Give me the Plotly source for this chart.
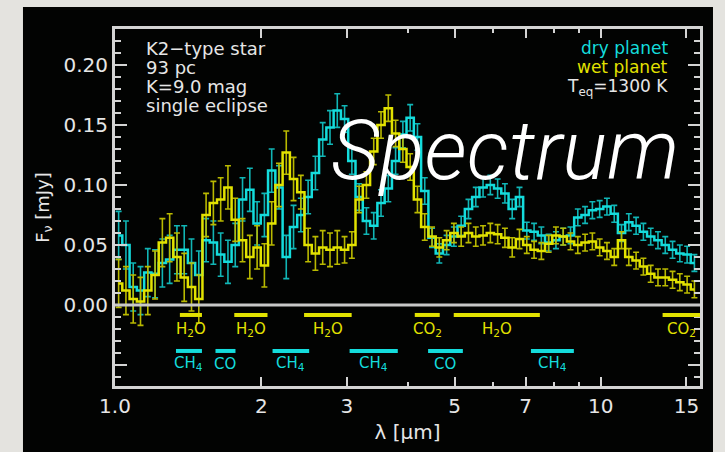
import math
import plotly.graph_objects as go

# Wavelength bin centres (micron), constant log spacing
wavelength = [
    1.0174, 1.0532, 1.0902, 1.1285, 1.1682, 1.2092, 1.2517, 1.2957, 1.3412, 1.3883,
    1.4371, 1.4876, 1.5399, 1.5940, 1.6501, 1.7080, 1.7681, 1.8302, 1.8945, 1.9611,
    2.0300, 2.1014, 2.1752, 2.2517, 2.3308, 2.4128, 2.4976, 2.5853, 2.6762, 2.7703,
    2.8676, 2.9684, 3.0728, 3.1808, 3.2925, 3.4083, 3.5281, 3.6521, 3.7804, 3.9133,
    4.0509, 4.1933, 4.3406, 4.4932, 4.6511, 4.8146, 4.9838, 5.1589, 5.3403, 5.5280,
    5.7223, 5.9234, 6.1316, 6.3471, 6.5702, 6.8011, 7.0401, 7.2876, 7.5437, 7.8088,
    8.0833, 8.3674, 8.6615, 8.9659, 9.2810, 9.6072, 9.9447, 10.294, 10.656, 11.030,
    11.418, 11.819, 12.235, 12.665, 13.110, 13.571, 14.048, 14.541, 15.052, 15.581,
]

# Eclipse depth spectra (mJy)
flux_dry = [
    0.058, 0.050, 0.015, 0.012, 0.027, 0.026, 0.035, 0.038, 0.046, 0.046,
    0.035, 0.025, 0.054, 0.052, 0.042, 0.036, 0.050, 0.088, 0.096, 0.068,
    0.075, 0.112, 0.098, 0.040, 0.065, 0.075, 0.090, 0.110, 0.138, 0.148,
    0.162, 0.155, 0.120, 0.090, 0.070, 0.066, 0.085, 0.097, 0.120, 0.142,
    0.156, 0.140, 0.095, 0.056, 0.043, 0.050, 0.057, 0.066, 0.080, 0.090,
    0.098, 0.100, 0.097, 0.093, 0.080, 0.090, 0.062, 0.061, 0.058, 0.052,
    0.054, 0.057, 0.058, 0.073, 0.075, 0.079, 0.080, 0.082, 0.076, 0.060,
    0.069, 0.066, 0.061, 0.057, 0.054, 0.050, 0.046, 0.043, 0.042, 0.035,
]
flux_wet = [
    0.018, 0.012, 0.005, 0.003, 0.012, 0.025, 0.052, 0.056, 0.040, 0.023,
    0.015, 0.005, 0.075, 0.085, 0.088, 0.098, 0.071, 0.054, 0.040, 0.048,
    0.033, 0.068, 0.100, 0.127, 0.105, 0.094, 0.050, 0.043, 0.048, 0.046,
    0.048, 0.046, 0.050, 0.088, 0.100, 0.128, 0.150, 0.164, 0.143, 0.130,
    0.115, 0.088, 0.065, 0.057, 0.048, 0.054, 0.060, 0.057, 0.060, 0.057,
    0.058, 0.060, 0.059, 0.056, 0.048, 0.055, 0.050, 0.046, 0.045, 0.051,
    0.058, 0.057, 0.053, 0.050, 0.052, 0.053, 0.048, 0.045, 0.040, 0.054,
    0.040, 0.037, 0.032, 0.026, 0.023, 0.023, 0.021, 0.019, 0.017, 0.013,
]
# 1-sigma uncertainty per bin (mJy)
flux_err = [
    0.020, 0.020, 0.020, 0.020, 0.020, 0.020, 0.020, 0.020, 0.020, 0.020,
    0.020, 0.020, 0.018, 0.018, 0.018, 0.018, 0.018, 0.018, 0.018, 0.018,
    0.018, 0.018, 0.018, 0.018, 0.018, 0.014, 0.014, 0.014, 0.014, 0.014,
    0.014, 0.011, 0.011, 0.011, 0.011, 0.011, 0.011, 0.011, 0.011, 0.011,
    0.011, 0.011, 0.011, 0.008, 0.008, 0.008, 0.008, 0.008, 0.008, 0.008,
    0.008, 0.008, 0.008, 0.008, 0.008, 0.008, 0.007, 0.007, 0.007, 0.007,
    0.007, 0.007, 0.007, 0.007, 0.007, 0.007, 0.007, 0.007, 0.007, 0.007,
    0.007, 0.007, 0.007, 0.007, 0.007, 0.007, 0.007, 0.007, 0.007, 0.007,
]

# Molecular absorption bands (start, end, label)
bands_wet = [
    (1.36, 1.51, "H<sub>2</sub>O"),
    (1.76, 2.06, "H<sub>2</sub>O"),
    (2.45, 3.07, "H<sub>2</sub>O"),
    (4.14, 4.66, "CO<sub>2</sub>"),
    (4.98, 7.49, "H<sub>2</sub>O"),
    (13.4, 16.0, "CO<sub>2</sub>"),
]
bands_dry = [
    (1.335, 1.51, "CH<sub>4</sub>"),
    (1.61, 1.77, "CO"),
    (2.11, 2.51, "CH<sub>4</sub>"),
    (3.04, 3.82, "CH<sub>4</sub>"),
    (4.41, 5.20, "CO"),
    (7.18, 8.80, "CH<sub>4</sub>"),
]

x_tickvals = [1, 2, 3, 5, 7, 10, 15]
x_ticktext = ["1.0", "2", "3", "5", "7", "10", "15"]
y_tickvals = [-0.05, 0.0, 0.05, 0.10, 0.15, 0.20]
y_ticktext = ["", "0.00", "0.05", "0.10", "0.15", "0.20"]

CYAN = "#14dcdc"
CYAN_ERR = "#11b5b5"
YELLOW = "#e2e200"
YELLOW_ERR = "#b9b900"
FRAME = "#d4d4d4"
TEXT = "#e6e6e6"
FONT = "DejaVu Sans"

fig = go.Figure()
for flux, col, ecol in [(flux_dry, CYAN, CYAN_ERR), (flux_wet, YELLOW, YELLOW_ERR)]:
    fig.add_trace(go.Scatter(
        x=wavelength, y=flux, mode="lines",
        line=dict(color=col, width=2.5, shape="hvh"),
        error_y=dict(type="data", array=flux_err, color=ecol, thickness=1.6, width=3),
        showlegend=False, hoverinfo="skip",
    ))

shapes = [
    # dark panel behind the figure
    dict(type="rect", xref="paper", yref="paper", x0=-0.1573, x1=1.0222,
         y0=-0.19, y1=1.0616, fillcolor="#020302", line=dict(width=0), layer="below"),
    # zero flux line
    dict(type="line", xref="paper", yref="y", x0=0, x1=1, y0=0, y1=0,
         line=dict(color="#c8c8c8", width=3), layer="above"),
]
annotations = []
for bands, col, ybar, ylab in [(bands_wet, YELLOW, -0.0083, -0.0205),
                               (bands_dry, CYAN, -0.0383, -0.049)]:
    for x0, x1, lab in bands:
        shapes.append(dict(type="line", xref="x", yref="y", x0=x0, x1=x1, y0=ybar, y1=ybar,
                           line=dict(color=col, width=4)))
        xc = math.sqrt(x0 * x1)
        annotations.append(dict(x=math.log10(xc), y=ylab, xref="x", yref="y",
                                text=lab, showarrow=False,
                                font=dict(family=FONT, size=15, color=col)))

info_lines = ["K2\u2212type star", "93 pc", "K=9.0 mag", "single eclipse"]
for i, t in enumerate(info_lines):
    annotations.append(dict(xref="paper", yref="paper", x=0.05, y=(386 - 48 - 19.3 * i) / 357,
                            xanchor="left", yanchor="middle", text=t, showarrow=False,
                            font=dict(family=FONT, size=18, color=TEXT)))
legend_lines = [("dry planet", CYAN), ("wet planet", YELLOW), ("T<sub>eq</sub>=1300 K", TEXT)]
legend_y = [48, 67.5, 87]
for (t, c), yy in zip(legend_lines, legend_y):
    annotations.append(dict(xref="paper", yref="paper", x=(670 - 115) / 585,
                            y=(386 - yy) / 357,
                            xanchor="right", yanchor="middle", text=t, showarrow=False,
                            font=dict(family=FONT, size=17, color=c)))

annotations.append(dict(xref="paper", yref="paper", x=(505 - 115) / 585, y=(386 - 150) / 357,
                        xanchor="center", yanchor="middle", text="Spectrum", showarrow=False,
                        font=dict(family="Roboto", size=84, color="white", style="italic",
                                  weight=300)))

fig.update_layout(
    width=725, height=452,
    margin=dict(l=115, r=25, t=29, b=66),
    paper_bgcolor="#e4e3df",
    plot_bgcolor="#020302",
    shapes=shapes,
    annotations=annotations,
    xaxis=dict(
        type="log", range=[0, 1.2041],
        tickvals=x_tickvals, ticktext=x_ticktext,
        ticks="inside", ticklen=9, tickwidth=2, tickcolor=FRAME,
        minor=dict(tickvals=[4, 6, 8, 9], ticks="inside", ticklen=4, tickwidth=2, tickcolor=FRAME),
        showline=True, linecolor=FRAME, linewidth=3, mirror="allticks",
        showgrid=False, zeroline=False,
        tickfont=dict(family=FONT, size=20, color=TEXT),
        title=dict(text="\u03bb [\u03bcm]", font=dict(family=FONT, size=20, color=TEXT), standoff=8),
    ),
    yaxis=dict(
        range=[-0.0675, 0.23],
        tickvals=y_tickvals, ticktext=y_ticktext,
        ticks="inside", ticklen=12, tickwidth=2, tickcolor=FRAME,
        minor=dict(dtick=0.01, ticks="inside", ticklen=6, tickwidth=2, tickcolor=FRAME),
        showline=True, linecolor=FRAME, linewidth=3, mirror="allticks",
        showgrid=False, zeroline=False,
        tickfont=dict(family=FONT, size=20, color=TEXT),
        title=dict(text="F<sub>\u03bd</sub> [mJy]", font=dict(family=FONT, size=18, color=TEXT),
                   standoff=10),
    ),
)

fig.write_html("out.html")
